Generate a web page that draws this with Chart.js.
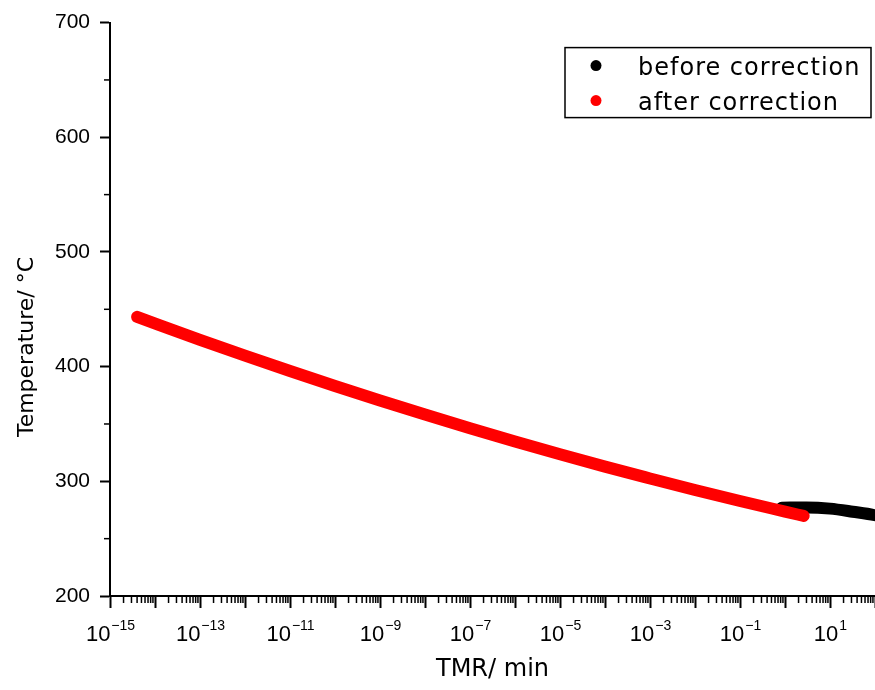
<!DOCTYPE html>
<html>
<head>
<meta charset="utf-8">
<script src="https://cdn.jsdelivr.net/npm/chart.js@4.4.0/dist/chart.umd.min.js"></script>
<style>
  html, body { margin: 0; padding: 0; background: #fff; }
</style>
</head>
<body>
<canvas id="tmrChart" width="875" height="690"></canvas>
<script>
// before correction (black)
const tmrBefore = [0.85, 3, 10, 32, 100, 200];
const tempBefore = [277.0, 277.2, 276.2, 273.5, 270.4, 267.0];

// after correction (red)
const tmrAfter = [4e-15, 1e-13, 1e-12, 1e-11, 1e-10, 1e-9, 1e-8, 1e-7, 1e-6, 1e-5, 1e-4, 1e-3, 1e-2, 1e-1, 1, 2.6];
const tempAfter = [443.4, 423.4, 409.6, 396.2, 383.1, 370.5, 358.2, 346.3, 334.7, 323.6, 312.8, 302.5, 292.4, 282.8, 273.6, 269.8];

// axes
const xDecades = [-15, -14, -13, -12, -11, -10, -9, -8, -7, -6, -5, -4, -3, -2, -1, 0, 1, 2];
const xLabeled = [-15, -13, -11, -9, -7, -5, -3, -1, 1];
const xMinorSteps = [2, 3, 4, 5, 6, 7, 8, 9];
const yTicks = [200, 300, 400, 500, 600, 700];
const yMinor = [250, 350, 450, 550, 650];

const tickFamily = 'Liberation Sans';
const textFamily = 'DejaVu Sans';

const axisExtras = {
    id: 'axisExtras',
    afterDraw(chart) {
        const { ctx, chartArea } = chart;
        const x = chart.scales.x;
        const y = chart.scales.y;
        ctx.save();
        ctx.strokeStyle = '#000';
        ctx.fillStyle = '#000';
        ctx.lineWidth = 1.5;

        // minor ticks on the log axis
        xDecades.slice(0, -1).forEach(e => {
            xMinorSteps.forEach(m => {
                const px = x.getPixelForValue(m * Math.pow(10, e));
                ctx.beginPath();
                ctx.moveTo(px, chartArea.bottom);
                ctx.lineTo(px, chartArea.bottom + 7);
                ctx.stroke();
            });
        });
        // minor ticks on temperature axis
        yMinor.forEach(v => {
            const py = y.getPixelForValue(v);
            ctx.beginPath();
            ctx.moveTo(chartArea.left - 6, py);
            ctx.lineTo(chartArea.left, py);
            ctx.stroke();
        });

        // power-of-ten labels with a real superscript
        ctx.textBaseline = 'alphabetic';
        ctx.textAlign = 'left';
        x.ticks.forEach(t => {
            const e = Math.round(Math.log10(t.value));
            if (!xLabeled.includes(e)) return;
            const px = x.getPixelForValue(t.value);
            const exp = (e < 0 ? '\u2212' : '') + Math.abs(e);
            ctx.font = '22px "' + tickFamily + '"';
            const wBase = ctx.measureText('10').width;
            ctx.font = '14px "' + tickFamily + '"';
            const wExp = ctx.measureText(exp).width;
            const left = px - (wBase + wExp) / 2;
            ctx.font = '22px "' + tickFamily + '"';
            ctx.fillText('10', left, chartArea.bottom + 45);
            ctx.font = '14px "' + tickFamily + '"';
            ctx.fillText(exp, left + wBase + 1, chartArea.bottom + 34);
        });

        // y title (sits a bit lower than centre in the original)
        ctx.font = '22px "' + textFamily + '"';
        ctx.textAlign = 'center';
        ctx.textBaseline = 'middle';
        ctx.save();
        ctx.translate(27, 347);
        ctx.rotate(-Math.PI / 2);
        ctx.fillText('Temperature/ °C', 0, 0);
        ctx.restore();

        // legend box
        const bx = chartArea.right - 310, by = chartArea.top + 25;
        ctx.lineWidth = 1.5;
        ctx.strokeRect(bx, by, 306, 70);
        ctx.font = '24px "' + textFamily + '"';
        ctx.letterSpacing = '1px';
        ctx.textAlign = 'left';
        [0, 1].forEach((di, row) => {
            const ds = chart.data.datasets[di];
            const cy = by + 18 + row * 35;
            ctx.fillStyle = ds.borderColor;
            ctx.beginPath();
            ctx.arc(bx + 31, cy, 5.5, 0, Math.PI * 2);
            ctx.fill();
            ctx.fillStyle = '#000';
            ctx.fillText(ds.label, bx + 73, cy + 3);
        });
        ctx.restore();
    }
};

new Chart(document.getElementById('tmrChart').getContext('2d'), {
    type: 'line',
    data: {
        datasets: [{
            label: 'before correction',
            data: tmrBefore.map((v, i) => ({ x: v, y: tempBefore[i] })),
            borderColor: '#000000',
            borderWidth: 12,
            borderCapStyle: 'round',
            borderJoinStyle: 'round',
            pointRadius: 0,
            cubicInterpolationMode: 'monotone',
            order: 2
        }, {
            label: 'after correction',
            data: tmrAfter.map((v, i) => ({ x: v, y: tempAfter[i] })),
            borderColor: '#ff0000',
            borderWidth: 12,
            borderCapStyle: 'round',
            borderJoinStyle: 'round',
            pointRadius: 0,
            cubicInterpolationMode: 'monotone',
            order: 1
        }]
    },
    options: {
        responsive: false,
        animation: false,
        layout: { padding: { top: 21, right: -4, bottom: 0, left: 0 } },
        plugins: {
            legend: { display: false },
            tooltip: { enabled: false }
        },
        scales: {
            x: {
                type: 'logarithmic',
                min: 1e-15,
                max: 1e2,
                afterBuildTicks: s => { s.ticks = xDecades.map(e => ({ value: Math.pow(10, e) })); },
                afterFit: s => { s.height = 94; },
                ticks: { display: false },
                grid: { drawOnChartArea: false, drawTicks: true, tickLength: 12, tickWidth: 2, tickColor: '#000' },
                border: { color: '#000', width: 2 },
                title: {
                    display: true,
                    text: 'TMR/ min',
                    color: '#000',
                    font: { family: textFamily, size: 24 },
                    padding: { top: 0, bottom: 6 }
                }
            },
            y: {
                min: 200,
                max: 700,
                afterBuildTicks: s => { s.ticks = yTicks.map(v => ({ value: v })); },
                afterFit: s => { s.width = 110; },
                ticks: { color: '#000', font: { family: tickFamily, size: 21 }, padding: 10 },
                grid: { drawOnChartArea: false, drawTicks: true, tickLength: 10, tickWidth: 2, tickColor: '#000' },
                border: { color: '#000', width: 2 }
            }
        }
    },
    plugins: [axisExtras]
});
</script>
</body>
</html>
